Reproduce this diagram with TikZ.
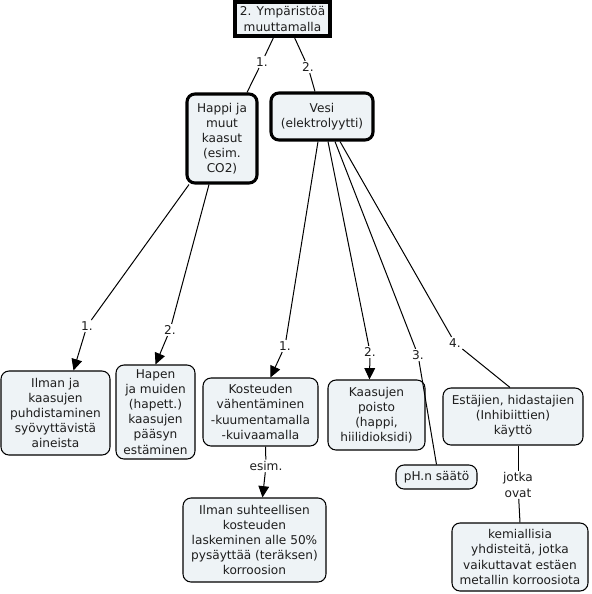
\documentclass[tikz,border=0pt]{standalone}
\usepackage{fontspec}
\setmainfont{DejaVu Sans}
\usetikzlibrary{arrows.meta}
\definecolor{boxfill}{RGB}{238,243,246}
\definecolor{txt}{RGB}{30,30,30}
\newcommand{\pxu}{0.75pt}
\begin{document}
\begin{tikzpicture}[x=0.75pt,y=-0.75pt,
  font=\fontsize{9.1}{11.3}\selectfont,
  concept/.style={draw=black, fill=boxfill, rounded corners=6pt, align=center, line width=0.8pt, inner sep=0pt, text=txt},
  mainbox/.style={concept, line width=2.3pt},
  lbl/.style={fill=white, inner sep=1pt, align=center, text=txt},
  conn/.style={line width=0.75pt},
  arr/.style={conn, -{Triangle[length=8.5pt,width=8pt]}}]
\useasboundingbox (0,0) rectangle (592,594);

% nodes
\node[mainbox, rounded corners=0pt, minimum width=95*\pxu, minimum height=34*\pxu] (top) at (282.5,19) {2. Ympäristöä\\muuttamalla};
\node[mainbox, minimum width=70*\pxu, minimum height=89*\pxu] (happi) at (222,138.5) {Happi ja\\muut\\kaasut\\(esim.\\CO2)};
\node[mainbox, minimum width=102*\pxu, minimum height=47*\pxu] (vesi) at (322,116.5) {Vesi\\(elektrolyytti)};
\node[concept, minimum width=109*\pxu, minimum height=84*\pxu] (ilman) at (55.5,413) {Ilman ja\\kaasujen\\puhdistaminen\\syövyttävistä\\aineista};
\node[concept, minimum width=79*\pxu, minimum height=94*\pxu] (hapen) at (155.5,412) {Hapen\\ja muiden\\(hapett.)\\kaasujen\\pääsyn\\estäminen};
\node[concept, minimum width=115*\pxu, minimum height=68*\pxu] (kost) at (260.5,412) {Kosteuden\\vähentäminen\\-kuumentamalla\\-kuivaamalla};
\node[concept, minimum width=97*\pxu, minimum height=70*\pxu] (kaas) at (376.5,415) {Kaasujen\\poisto\\(happi,\\hiilidioksidi)};
\node[concept, minimum width=81*\pxu, minimum height=24*\pxu] (ph) at (436.5,477) {pH.n säätö};
\node[concept, minimum width=140*\pxu, minimum height=57*\pxu] (est) at (513,416.5) {Estäjien, hidastajien\\(Inhibiittien)\\käyttö};
\node[concept, minimum width=143*\pxu, minimum height=84*\pxu] (suht) at (254.5,540) {Ilman suhteellisen\\kosteuden\\laskeminen alle 50\%\\pysäyttää (teräksen)\\korroosion};
\node[concept, minimum width=136*\pxu, minimum height=68*\pxu] (kem) at (520,557) {kemiallisia\\yhdisteitä, jotka\\vaikuttavat estäen\\metallin korroosiota};

% labels
\node[lbl] (l1) at (262,62) {1.};
\node[lbl] (l2) at (308,67) {2.};
\node[lbl] (l3) at (87,326) {1.};
\node[lbl] (l4) at (170,330) {2.};
\node[lbl] (l5) at (285,346) {1.};
\node[lbl] (l6) at (370,352) {2.};
\node[lbl] (l7) at (418,355) {3.};
\node[lbl] (l8) at (455,343) {4.};
\node[lbl] (l9) at (266,466) {esim.};
\node[lbl] (l10) at (518,485) {jotka\\ovat};

% connectors
\draw[conn] ([xshift=-9*\pxu]top.south) -- (l1);
\draw[conn] (l1) -- ([xshift=25*\pxu]happi.north);
\draw[conn] ([xshift=12*\pxu]top.south) -- (l2);
\draw[conn] (l2) -- ([xshift=-7*\pxu]vesi.north);

\draw[conn] ([xshift=-33*\pxu]happi.south) -- (l3);
\draw[arr] (l3) -- ([xshift=18*\pxu]ilman.north);
\draw[conn] ([xshift=-13*\pxu]happi.south) -- (l4);
\draw[arr] (l4) -- (hapen.north);

\draw[conn] ([xshift=-4*\pxu]vesi.south) -- (l5);
\draw[arr] (l5) -- ([xshift=10*\pxu]kost.north);
\draw[conn] ([xshift=6*\pxu]vesi.south) -- (l6);
\draw[arr] (l6) -- ([xshift=-7*\pxu]kaas.north);
\draw[conn] ([xshift=13*\pxu]vesi.south) -- (l7);
\draw[conn] (l7) -- (ph.north);
\draw[conn] ([xshift=18*\pxu]vesi.south) -- (l8);
\draw[conn] (l8) -- ([xshift=-3*\pxu]est.north);

\draw[conn] ([xshift=5*\pxu]kost.south) -- (l9);
\draw[arr] (l9) -- ([xshift=8*\pxu]suht.north);
\draw[conn] ([xshift=5*\pxu]est.south) -- (l10);
\draw[conn] (l10) -- (kem.north);
\end{tikzpicture}
\end{document}
